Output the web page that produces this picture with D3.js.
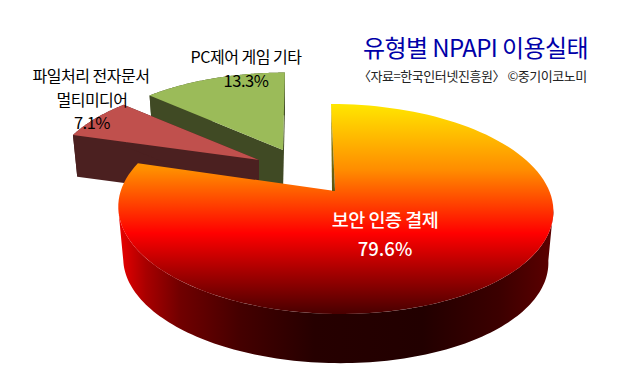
<!DOCTYPE html>
<html><head><meta charset="utf-8">
<script src="https://cdn.jsdelivr.net/npm/d3@7/dist/d3.min.js"></script>
<style>html,body{margin:0;background:#fff}svg{display:block}text{font-family:"Noto Sans CJK KR","Noto Sans",sans-serif}</style>
</head><body><div id="c"></div>
<script>
const categories = ["보안 인증 결제", "파일처리 전자문서 멀티미디어", "PC제어 게임 기타"];
const values = [79.6, 7.1, 13.3];
const titleText = "유형별 NPAPI 이용실태";
const sourceText = "〈자료=한국인터넷진흥원〉 ©중기이코노미";

const W = 630, H = 384;
const svg = d3.select("#c").append("svg").attr("width", W).attr("height", H);
const defs = svg.append("defs");
function grad(id, x1, y1, x2, y2, stops) {
  const g = defs.append("linearGradient").attr("id", id).attr("gradientUnits", "userSpaceOnUse")
    .attr("x1", x1).attr("y1", y1).attr("x2", x2).attr("y2", y2);
  stops.forEach(s => g.append("stop").attr("offset", s[0]).attr("stop-color", s[1]));
}
grad("topG", 0, 103, 0, 313, [[0,"#ffe800"],[.32,"#ff8c00"],[.62,"#ff0000"],[.8,"#a80000"],[1,"#4a0000"]]);
grad("wallG", 120, 0, 552, 0, [[0,"#e80000"],[.06,"#a80000"],[.14,"#700000"],[.28,"#440000"],[.45,"#260000"],[.7,"#220000"],[.88,"#3c0000"],[1,"#5c0000"]]);
grad("cutG", 0, 103, 0, 191, [[0,"#d8c000"],[.4,"#8a7c10"],[1,"#5a5410"]]);

const pie = d3.pie().sort(null).value(d => d);
const arcs = pie(values);

const K = 0.1714;
const SIDE = Math.acos(-K); // angle of the rightmost point of the rim
// perspective projection of the unit disc, one per exploded slice
function projector(o) {
  return (ang, r, low) => {
    const X = r * Math.sin(ang), Y = r * Math.cos(ang);
    const den = 1 + K * Y;
    const s = low ? o.shrink : 1;
    return [o.ax + s * o.sx * (214.3 * X + o.lean * Y) / den,
            o.ay + (low ? o.depth : 0) - s * o.sy * 101.9 * Y / den];
  };
}
const layouts = [
  {ax:335, ay:191, sx:1, sy:1, lean:-4.7, depth:52, shrink:.977, top:"url(#topG)", wall:"url(#wallG)", cut:null, from:SIDE, to:2*Math.PI-SIDE},
  {ax:259, ay:160, sx:.95, sy:.90, lean:0, depth:41, shrink:.977, top:"#c0504d", wall:"#4b2020", cut:"#4b2020"},
  {ax:283, ay:150, sx:.945, sy:.89, lean:2.3, depth:41, shrink:.977, top:"#9bbb59", wall:"#404a24", cut:"#404a24"}
];
const line = d3.line();
function sample(a0, a1) { return d3.range(0, 121).map(i => a0 + (a1 - a0) * i / 120); }

function drawSlice(i) {
  const a = arcs[i], o = layouts[i], p = projector(o), g = svg.append("g");
  const ts = sample(a.startAngle, a.endAngle);
  const ws = o.from !== undefined ? sample(o.from, o.to) : ts;
  // outer wall as one band
  const band = ws.map(t => p(t,1,false)).concat(ws.slice().reverse().map(t => p(t,1,true)));
  g.append("path").attr("d", line(band) + "Z").attr("fill", o.wall);
  // cut faces
  if (o.cut) [a.startAngle, a.endAngle].forEach(t => {
    const q = [p(t,0,false), p(t,1,false), p(t,1,true), p(t,0,true)];
    g.append("path").attr("d", line(q) + "Z").attr("fill", o.cut);
  });
  // top face
  const topPts = [p(0,0,false)].concat(ts.map(t => p(t,1,false)));
  g.append("path").attr("d", line(topPts) + "Z").attr("fill", o.top);
  if (!o.cut) {
    // the sliver of the first cut face that shows beside the top
    const c = p(a.startAngle,0,false), e = p(a.startAngle,1,false);
    g.append("path").attr("d", line([e, c, [c[0]-3, c[1]]]) + "Z").attr("fill", "url(#cutG)");
  }
}
drawSlice(2); drawSlice(1); drawSlice(0);

function label(x, y, txt, size, fill, weight, ls) {
  svg.append("text").attr("x", x).attr("y", y).attr("text-anchor", "middle")
    .attr("font-size", size).attr("fill", fill).attr("font-weight", weight || 400)
    .attr("letter-spacing", ls || 0).text(txt);
}
label(385, 227, categories[0], 18.5, "#fff", 500, -0.5);
label(385, 256, values[0].toFixed(1) + "%", 18.5, "#fff", 500, 0);
const docWords = categories[1].split(" ");
label(91, 82, docWords.slice(0,2).join(" "), 16, "#000", 400, -0.5);
label(92, 106, docWords[2], 16, "#000", 400, -0.5);
label(92, 129, values[1].toFixed(1) + "%", 16.5, "#000", 400, -0.5);
label(246, 63, categories[2], 16, "#000", 400, -0.5);
label(246, 87, values[2].toFixed(1) + "%", 16.5, "#000", 400, -0.5);

svg.append("text").attr("x", 363).attr("y", 57).attr("font-size", 24).attr("fill", "#0000a8").attr("letter-spacing", -0.6).text(titleText);
svg.append("text").attr("x", 358).attr("y", 81).attr("font-size", 13).attr("fill", "#222").attr("letter-spacing", -0.45).text(sourceText);
</script></body></html>
